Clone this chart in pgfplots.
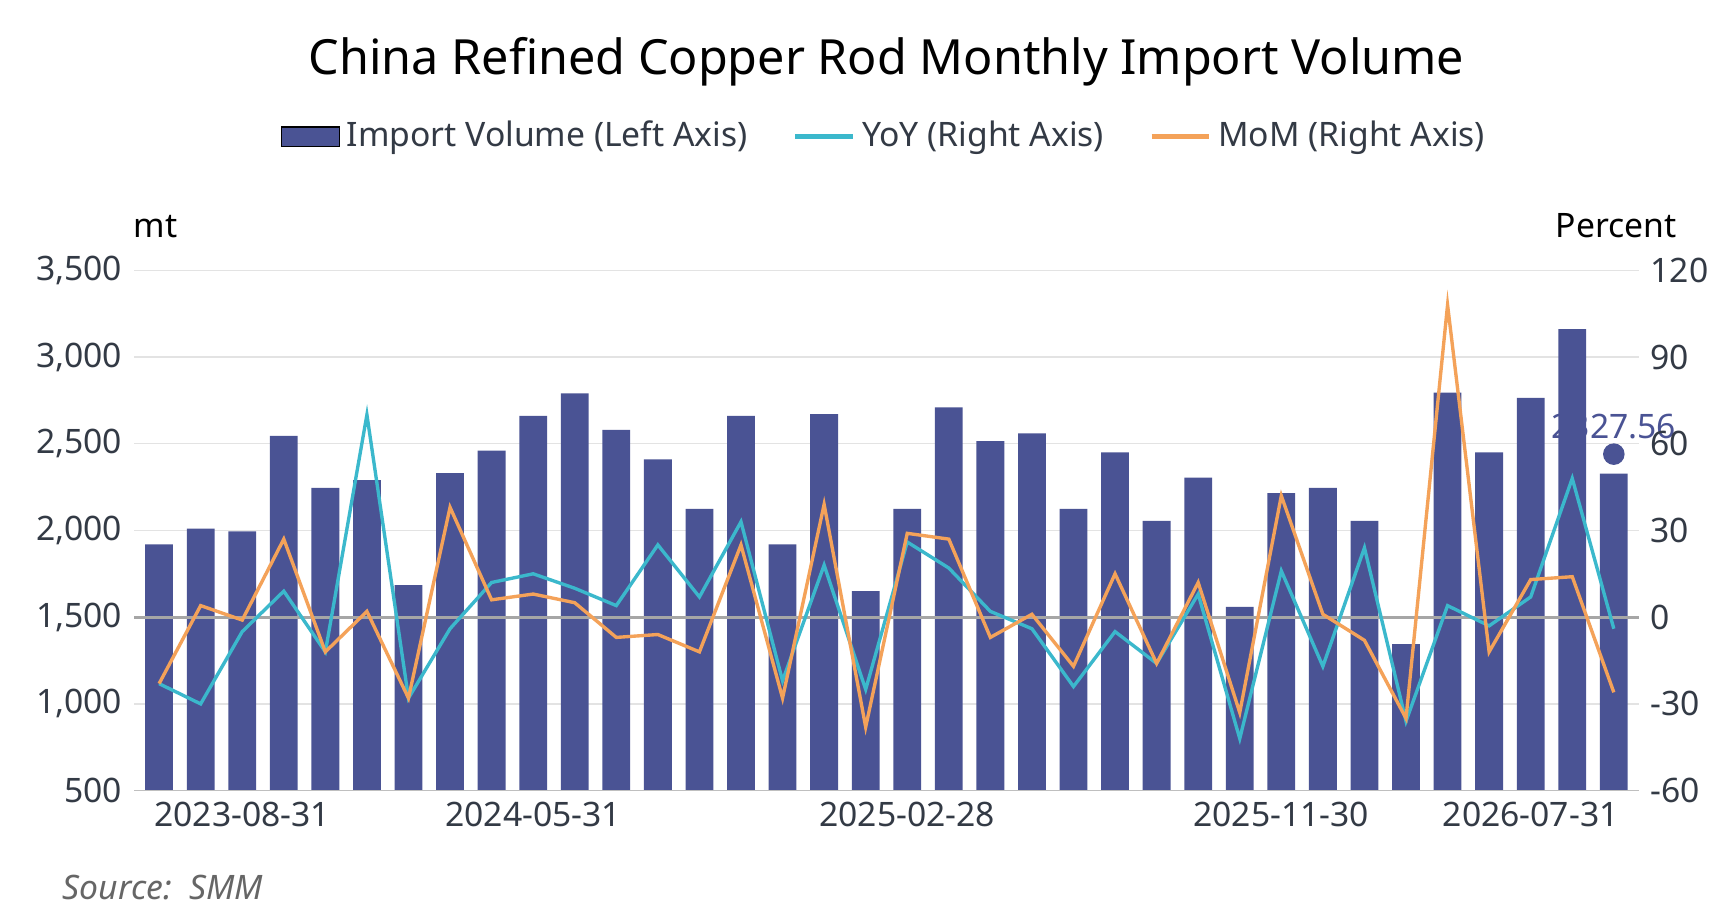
\documentclass[border=0pt]{standalone}
\usepackage{pgfplots}
\pgfplotsset{compat=1.18}
\usepackage{fontspec}
\setmainfont{Noto Sans}
\definecolor{barc}{HTML}{4A5394}
\definecolor{yoyc}{HTML}{3BB8CC}
\definecolor{momc}{HTML}{F4A259}
\definecolor{txt}{HTML}{333A45}
\begin{document}
\begin{tikzpicture}[font=\color{txt}]
\path[fill=white] (-1.4,-1.25) rectangle (16.6,8.25);
\begin{axis}[
  at={(0,0)}, scale only axis, width=15.7cm, height=5.43cm,
  xmin=-0.6, xmax=35.6, ymin=500, ymax=3500,
  ytick={500,1000,1500,2000,2500,3000,3500},
  yticklabel style={/pgf/number format/1000 sep={,}},
  /pgf/number format/assume math mode=true,
  tick label style={font=\normalsize\color{txt}},
  xtick={2,9,18,27,33}, xticklabels={2023-08-31,2024-05-31,2025-02-28,2025-11-30,2026-07-31},
  axis line style={draw=none}, axis x line*=bottom, axis y line*=left,
  major tick length=0pt,
  ymajorgrids, grid style={draw=gray!22},
  legend style={at={(0.5,1.2)}, anchor=south, draw=none, legend columns=3, font=\normalsize\color{txt},
    /tikz/every even column/.append style={column sep=0.4cm}},
  clip=false,
]
\addplot[ybar, bar width=0.29cm, fill=barc, draw=none, area legend] coordinates {
(0,1920)(1,2010)(2,1995)(3,2545)(4,2245)(5,2290)(6,1685)(7,2330)(8,2460)(9,2660)
(10,2790)(11,2580)(12,2410)(13,2125)(14,2660)(15,1920)(16,2670)(17,1650)(18,2125)(19,2710)
(20,2515)(21,2560)(22,2125)(23,2450)(24,2055)(25,2305)(26,1560)(27,2215)(28,2245)(29,2055)
(30,1345)(31,2795)(32,2450)(33,2765)(34,3160)(35,2327.56)};
\addlegendentry{Import Volume (Left Axis)}
\addlegendimage{yoyc, line width=1.5pt}
\addlegendentry{YoY (Right Axis)}
\addlegendimage{momc, line width=1.5pt}
\addlegendentry{MoM (Right Axis)}
\draw[gray!50] (axis cs:-0.6,500) -- (axis cs:35.6,500);
\node[font=\normalsize\bfseries, text=barc] at (axis cs:35,2600) {2327.56};
\addplot[only marks, mark=*, mark size=3pt, barc] coordinates {(35,2440)};
\node[anchor=south west, font=\normalsize] at (axis cs:-0.9,3620) {mt};
\node[anchor=south east, font=\normalsize] at (axis cs:36.8,3620) {Percent};
\node[font=\Large\bfseries] at (axis cs:17.5,4700) {China Refined Copper Rod Monthly Import Volume};
\node[anchor=west, font=\normalsize\itshape, text=gray!80!black] at (axis cs:-2.6,-60) {Source:\ \ SMM};
\end{axis}
\begin{axis}[
  at={(0,0)}, scale only axis, width=15.7cm, height=5.43cm,
  xmin=-0.6, xmax=35.6, ymin=-60, ymax=120,
  ytick={-60,-30,0,30,60,90,120},
  /pgf/number format/assume math mode=true,
  axis x line=none, axis y line*=right, y axis line style={draw=none},
  major tick length=0pt,
  tick label style={font=\normalsize\color{txt}},
]
\draw[gray!70, line width=0.8pt] (axis cs:-0.6,0) -- (axis cs:35.6,0);
\addplot[yoyc, line width=1pt] coordinates {
(0,-23)(1,-30)(2,-5)(3,9)(4,-12)(5,70)(6,-28)(7,-4)(8,12)(9,15)
(10,10)(11,4)(12,25)(13,7)(14,33)(15,-22)(16,18)(17,-25)(18,26)(19,17)
(20,2)(21,-4)(22,-24)(23,-5)(24,-16)(25,8)(26,-42)(27,16)(28,-17)(29,24)
(30,-36)(31,4)(32,-3)(33,7)(34,48)(35,-4)};
\addplot[momc, line width=1pt] coordinates {
(0,-23)(1,4)(2,-1)(3,27)(4,-12)(5,2)(6,-28)(7,38)(8,6)(9,8)
(10,5)(11,-7)(12,-6)(13,-12)(14,25)(15,-28)(16,39)(17,-38)(18,29)(19,27)
(20,-7)(21,1)(22,-17)(23,15)(24,-16)(25,12)(26,-33)(27,42)(28,1)(29,-8)
(30,-35)(31,108)(32,-12)(33,13)(34,14)(35,-26)};
\end{axis}
\end{tikzpicture}
\end{document}
